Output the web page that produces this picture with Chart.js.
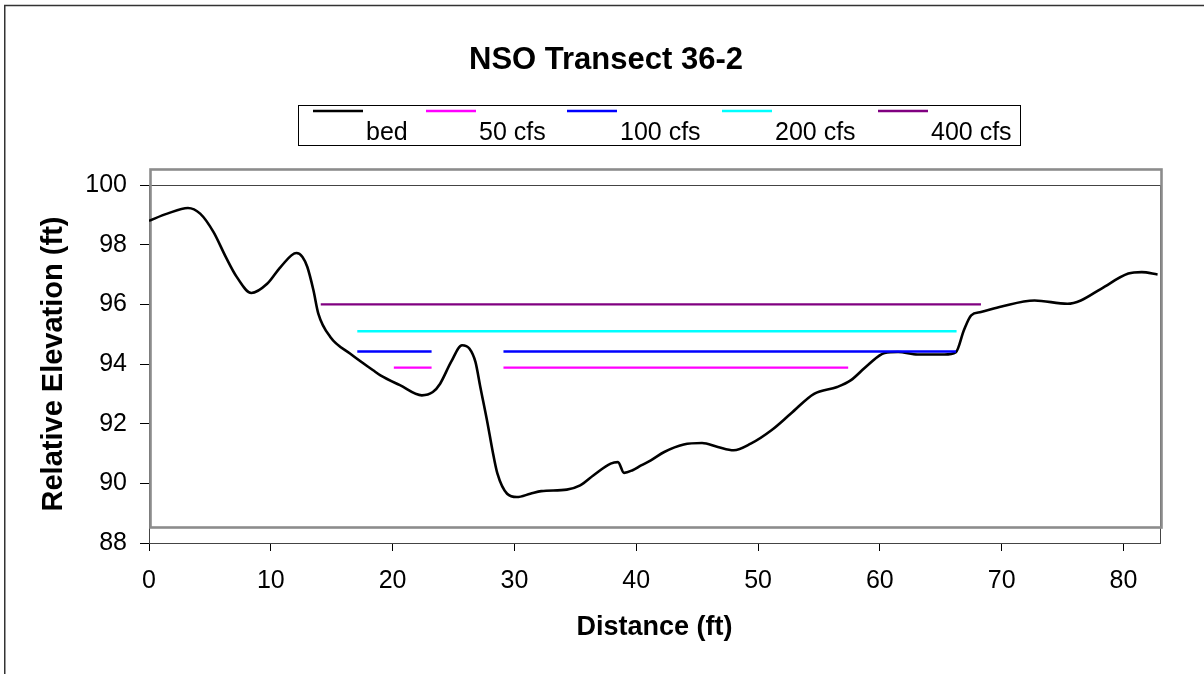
<!DOCTYPE html>
<html>
<head>
<meta charset="utf-8">
<script src="https://cdn.jsdelivr.net/npm/chart.js@4.4.1/dist/chart.umd.min.js"></script>
<style>
  body { margin: 0; background: #fff; }
  #wrap { width: 1204px; height: 674px; }
</style>
</head>
<body>
<div id="wrap"><canvas id="chart" width="1204" height="674"></canvas></div>
<script>
// bed profile
const bedX = [0, 1.5, 3.2, 4.2, 5.3, 6.3, 7.2, 8.4, 9.7, 10.8, 12.1, 12.6, 13.0, 13.5, 13.9, 14.9, 16.5, 18.4, 19.0,
  20.6, 22.4, 23.3, 23.9, 24.8, 25.7, 26.3, 26.8, 27.2, 27.8, 28.2, 28.6, 29.4, 30.2, 31.3, 32.2, 34.3, 35.4,
  36.5, 37.9, 38.5, 39.0, 39.7, 40.4, 41.2, 42.3, 43.9, 45.4, 46.7, 48.0, 49.4, 51.1, 52.7, 54.6, 56.5, 57.6,
  59.0, 60.4, 61.5, 63.1, 65.3, 66.25, 66.9, 67.5, 68.3, 70.0, 72.7, 75.4, 76.5, 78.2, 80.4, 81.5, 82.8];
const bedY = [98.8, 99.04, 99.23, 99.04, 98.42, 97.59, 96.92, 96.38, 96.69, 97.25, 97.72, 97.59, 97.25, 96.47, 95.69, 94.9, 94.35, 93.79, 93.62,
  93.29, 92.95, 93.06, 93.34, 94.07, 94.63, 94.52, 94.07, 93.23, 92.0, 91.1, 90.33, 89.65, 89.54, 89.65, 89.74, 89.79, 89.93,
  90.27, 90.66, 90.71, 90.35, 90.44, 90.6, 90.77, 91.05, 91.3, 91.35, 91.22, 91.11, 91.33, 91.78, 92.34, 93.0, 93.23, 93.45,
  93.96, 94.37, 94.4, 94.32, 94.32, 94.4, 95.13, 95.63, 95.74, 95.93, 96.13, 96.02, 96.13, 96.53, 97.03, 97.08, 97.0];

// water surfaces (null = gap)
const q50X = [20.1, 23.2, 26, 29.1, 57.4];
const q50Y = [93.88, 93.88, null, 93.88, 93.88];
const q100X = [17.1, 23.2, 26, 29.1, 66.25];
const q100Y = [94.42, 94.42, null, 94.42, 94.42];
const q200X = [17.1, 66.3];
const q200Y = [95.1, 95.1];
const q400X = [14.1, 68.3];
const q400Y = [96.0, 96.0];

const seriesNames = ['bed', '50 cfs', '100 cfs', '200 cfs', '400 cfs'];
const seriesColors = ['#000000', '#FF00FF', '#0000FF', '#00FFFF', '#800080'];

const xTickValues = [0, 10, 20, 30, 40, 50, 60, 70, 80];
const yTickValues = [88, 90, 92, 94, 96, 98, 100];

const chartTitle = 'NSO Transect 36-2';
const FONT = 'Liberation Sans, Arial, sans-serif';

function pts(xs, ys) {
  return xs.map((x, i) => ({ x: x, y: ys[i] }));
}

const series = [[bedX, bedY], [q50X, q50Y], [q100X, q100Y], [q200X, q200Y], [q400X, q400Y]];

const datasets = series.map((s, i) => ({
  label: seriesNames[i],
  data: pts(s[0], s[1]),
  borderColor: seriesColors[i],
  backgroundColor: seriesColors[i],
  borderWidth: i === 0 ? 2.6 : 2.4,
  pointRadius: 0,
  fill: false,
  spanGaps: false,
  cubicInterpolationMode: i === 0 ? 'monotone' : 'default',
  tension: 0,
  order: i === 0 ? 1 : 0
}));

// page border, title, Excel style plot frame and the legend
const framePlugin = {
  id: 'frame',
  beforeDraw(chart) {
    const ctx = chart.ctx;
    ctx.save();
    ctx.fillStyle = '#fff';
    ctx.fillRect(0, 0, chart.width, chart.height);
    ctx.strokeStyle = '#333';
    ctx.lineWidth = 1.5;
    ctx.beginPath();
    ctx.moveTo(4.75, chart.height);
    ctx.lineTo(4.75, 5.5);
    ctx.lineTo(chart.width, 5.5);
    ctx.stroke();
    // title
    ctx.fillStyle = '#000';
    ctx.font = 'bold 31px ' + FONT;
    ctx.textAlign = 'center';
    ctx.textBaseline = 'middle';
    ctx.fillText(chartTitle, 606, 60);
    ctx.restore();
  },
  beforeDatasetsDraw(chart) {
    const ctx = chart.ctx;
    const a = chart.chartArea;
    ctx.save();
    ctx.strokeStyle = '#444';
    ctx.lineWidth = 1;
    ctx.strokeRect(a.left + 0.5, a.top + 0.5, a.right - a.left, a.bottom - a.top);
    ctx.strokeStyle = '#8c8c8c';
    ctx.lineWidth = 2.6;
    ctx.strokeRect(a.left + 1.5, a.top - 15.5, a.right - a.left, a.bottom - a.top);
    ctx.restore();
  },
  afterDraw(chart) {
    const ctx = chart.ctx;
    ctx.save();
    ctx.strokeStyle = '#000';
    ctx.lineWidth = 1;
    ctx.strokeRect(298.5, 105.5, 722, 40);
    const starts = [313, 426, 567, 722, 878];
    ctx.font = '25px ' + FONT;
    ctx.textBaseline = 'alphabetic';
    ctx.fillStyle = '#000';
    chart.data.datasets.forEach((ds, i) => {
      ctx.strokeStyle = ds.borderColor;
      ctx.lineWidth = 2.5;
      ctx.beginPath();
      ctx.moveTo(starts[i], 111);
      ctx.lineTo(starts[i] + 50, 111);
      ctx.stroke();
      ctx.fillText(ds.label, starts[i] + 53, 140);
    });
    ctx.restore();
  }
};

new Chart(document.getElementById('chart'), {
  type: 'line',
  data: { datasets: datasets },
  plugins: [framePlugin],
  options: {
    responsive: false,
    devicePixelRatio: 1,
    animation: false,
    layout: { padding: { left: 0, right: 44, top: 185, bottom: 0 } },
    plugins: {
      legend: { display: false },
      tooltip: { enabled: false },
      title: { display: false }
    },
    scales: {
      x: {
        type: 'linear',
        min: 0,
        max: 83,
        afterFit(s) { s.height = 131; },
        afterBuildTicks(s) { s.ticks = xTickValues.map(v => ({ value: v })); },
        grid: { drawOnChartArea: false, color: '#000', tickLength: 8 },
        border: { color: '#000', width: 1 },
        ticks: { color: '#000', font: { family: FONT, size: 25 }, padding: 15, maxRotation: 0 },
        title: {
          display: true,
          text: 'Distance (ft)',
          color: '#000',
          font: { family: FONT, size: 27, weight: 'bold' },
          padding: { top: 0, bottom: 30 }
        }
      },
      y: {
        type: 'linear',
        min: 88,
        max: 100,
        afterFit(s) { s.width = 149; },
        afterBuildTicks(s) { s.ticks = yTickValues.map(v => ({ value: v })); },
        grid: { drawOnChartArea: false, color: '#000', tickLength: 9 },
        border: { color: '#000', width: 1 },
        ticks: { color: '#000', font: { family: FONT, size: 25 }, padding: 13 },
        title: {
          display: true,
          text: 'Relative Elevation (ft)',
          color: '#000',
          font: { family: FONT, size: 29, weight: 'bold' },
          padding: { top: 37, bottom: 0 }
        }
      }
    }
  }
});
</script>
</body>
</html>
